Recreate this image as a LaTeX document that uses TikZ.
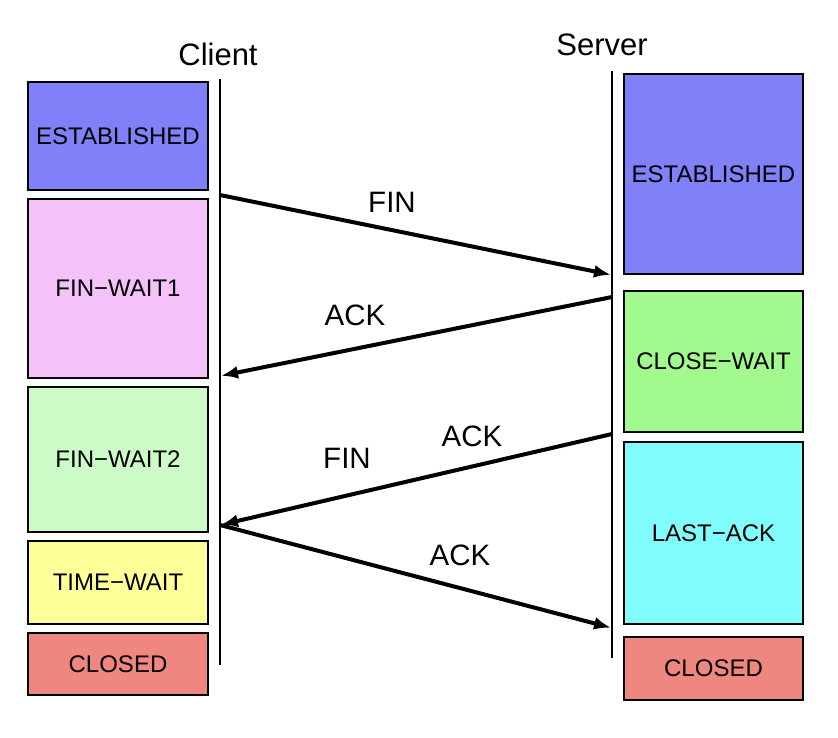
\documentclass[tikz,border=0pt]{standalone}
\usepackage{fontspec}
\setmainfont{Liberation Sans}
\usetikzlibrary{arrows.meta}
\definecolor{cEst}{RGB}{128,128,248}
\definecolor{cFw1}{RGB}{244,194,248}
\definecolor{cFw2}{RGB}{204,251,200}
\definecolor{cTw}{RGB}{255,255,153}
\definecolor{cCl}{RGB}{240,134,128}
\definecolor{cCw}{RGB}{162,249,142}
\definecolor{cLa}{RGB}{128,252,252}
\begin{document}
\begin{tikzpicture}[x=1pt,y=-1pt,
  statebox/.style={draw=black,line width=2pt,inner sep=0pt,font=\fontsize{24}{28}\selectfont},
  lifeline/.style={line width=2pt},
  msg/.style={line width=4pt,-{Latex[length=17pt,width=13pt]},shorten >=1pt},
  msglabel/.style={font=\fontsize{29.5}{33}\selectfont},
  actor/.style={font=\fontsize{31}{35}\selectfont}]
\useasboundingbox (0,0) rectangle (838,738);
% client states
\node[statebox,fill=cEst,minimum width=180pt,minimum height=108pt] (cest) at (118,136) {ESTABLISHED};
\node[statebox,fill=cFw1,minimum width=180pt,minimum height=179pt] (cfw1) at (118,288.5) {FIN−WAIT1};
\node[statebox,fill=cFw2,minimum width=180pt,minimum height=145pt] (cfw2) at (118,459.5) {FIN−WAIT2};
\node[statebox,fill=cTw,minimum width=180pt,minimum height=83pt] (ctw) at (118,582.5) {TIME−WAIT};
\node[statebox,fill=cCl,minimum width=180pt,minimum height=62pt] (ccl) at (118,664) {CLOSED};
% server states
\node[statebox,fill=cEst,minimum width=179pt,minimum height=200pt] (sest) at (713.5,174) {ESTABLISHED};
\node[statebox,fill=cCw,minimum width=179pt,minimum height=141pt] (scw) at (713.5,361.5) {CLOSE−WAIT};
\node[statebox,fill=cLa,minimum width=179pt,minimum height=182pt] (sla) at (713.5,533) {LAST−ACK};
\node[statebox,fill=cCl,minimum width=179pt,minimum height=63pt] (scl) at (713.5,668.5) {CLOSED};
% actors
\node[actor] (client) at (218,54) {Client};
\node[actor] (server) at (602,45) {Server};
% lifelines
\coordinate (ctop) at (220,79);
\coordinate (cbot) at (220,665);
\coordinate (stop) at (612,71);
\coordinate (sbot) at (612,658);
\draw[lifeline] (ctop) -- (cbot);
\draw[lifeline] (stop) -- (sbot);
% message points
\coordinate (c1) at (220,195);
\coordinate (s1) at (612,275);
\coordinate (s2) at (612,297);
\coordinate (c2) at (220,376);
\coordinate (s3) at (612,434);
\coordinate (c3) at (220,525);
\coordinate (s4) at (612,628);
\draw[msg] (c1) -- (s1);
\draw[msg] (s2) -- (c2);
\draw[msg] (s3) -- (c3);
\draw[msg] (c3) -- (s4);
% labels
\node[msglabel] (lfin1) at (392,202) {FIN};
\node[msglabel] (lack1) at (355,315) {ACK};
\node[msglabel] (lack2) at (472,436) {ACK};
\node[msglabel] (lfin2) at (347,458) {FIN};
\node[msglabel] (lack3) at (460,555) {ACK};
\end{tikzpicture}
\end{document}
